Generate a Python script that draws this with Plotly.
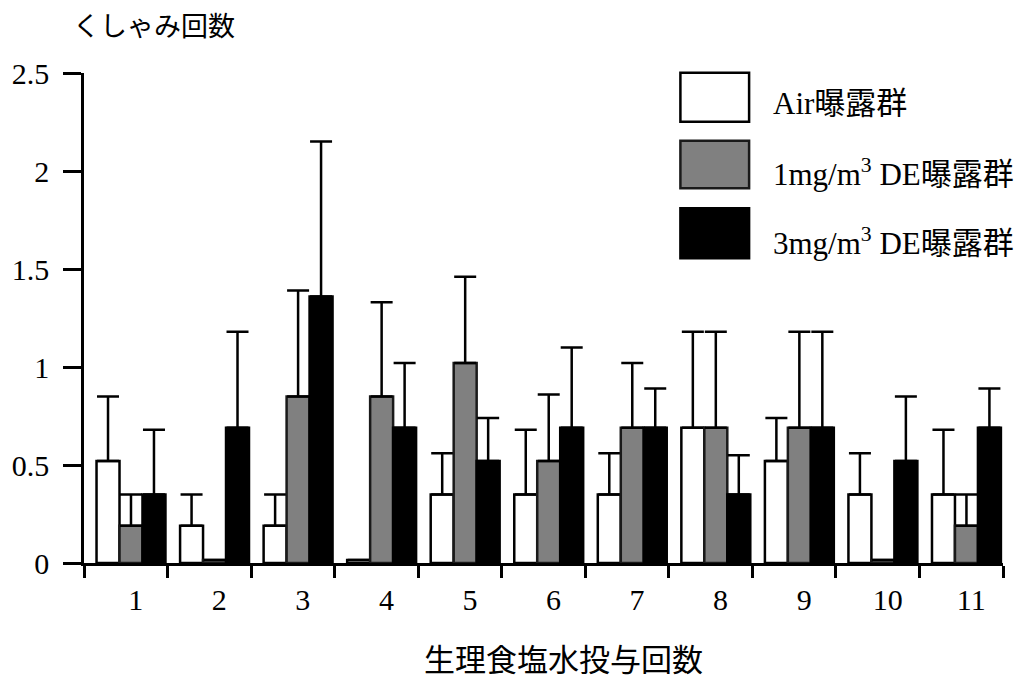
import plotly.graph_objects as go

# Sneezing counts per saline administration, three exposure groups (mean + upper SE)
rounds = ["1", "2", "3", "4", "5", "6", "7", "8", "9", "10", "11"]

air_mean = [0.52, 0.19, 0.19, 0.015, 0.35, 0.35, 0.35, 0.69, 0.52, 0.35, 0.35]
air_err = [0.33, 0.16, 0.16, 0.0, 0.21, 0.33, 0.21, 0.49, 0.22, 0.21, 0.33]

de1_mean = [0.19, 0.015, 0.85, 0.85, 1.02, 0.52, 0.69, 0.69, 0.69, 0.015, 0.19]
de1_err = [0.16, 0.0, 0.54, 0.48, 0.44, 0.34, 0.33, 0.49, 0.49, 0.0, 0.16]

de3_mean = [0.35, 0.69, 1.36, 0.69, 0.52, 0.69, 0.69, 0.35, 0.69, 0.52, 0.69]
de3_err = [0.33, 0.49, 0.79, 0.33, 0.22, 0.41, 0.20, 0.20, 0.49, 0.33, 0.20]

group_names = ["Air曝露群", "1mg/m<sup>3</sup> DE曝露群", "3mg/m<sup>3</sup> DE曝露群"]
fills = ["#ffffff", "#808080", "#000000"]
outlines = ["#000000", "#1a1a1a", "#000000"]

SERIF = "Liberation Serif, Times New Roman, Noto Sans CJK JP, serif"
GOTHIC = "Noto Sans CJK JP, sans-serif"

W, H = 1023, 683
ML, MR, MT, MB = 80, 20, 73, 120
PW, PH = W - ML - MR, H - MT - MB


def px_x(px):
    return (px - ML) / PW


def px_y(py):
    return (H - MB - py) / PH


fig = go.Figure()

bar_w = 0.275
offsets = [-0.35, -0.075, 0.20]
series = [(air_mean, air_err), (de1_mean, de1_err), (de3_mean, de3_err)]

for (mean, err), name, fc, lc, off in zip(series, group_names, fills, outlines, offsets):
    fig.add_trace(go.Bar(
        x=rounds,
        y=mean,
        name=name,
        width=bar_w,
        offset=off,
        marker=dict(color=fc, line=dict(color=lc, width=2.5)),
        error_y=dict(
            type="data",
            symmetric=False,
            array=err,
            arrayminus=[0] * len(err),
            color="#000000",
            thickness=2.5,
            width=11,
        ),
        showlegend=False,
    ))

# Legend drawn as large swatches with labels
legend_rows = [(72.7, 121.7, 104), (140.7, 188.3, 172), (208.3, 258.3, 241)]
for (top, bot, mid), name, fc, lc in zip(legend_rows, group_names, fills, outlines):
    fig.add_shape(
        type="rect", xref="paper", yref="paper",
        x0=px_x(679), x1=px_x(748), y0=px_y(bot), y1=px_y(top),
        fillcolor=fc, line=dict(color=lc, width=2.5),
    )
    fig.add_annotation(
        xref="paper", yref="paper", x=px_x(770), y=px_y(mid),
        xanchor="left", yanchor="middle", showarrow=False,
        text=name, font=dict(family=SERIF, size=31, color="#000000"),
    )

# Axis titles
fig.add_annotation(
    xref="paper", yref="paper", x=px_x(150), y=px_y(25),
    xanchor="center", yanchor="middle", showarrow=False,
    text="くしゃみ回数", font=dict(family=GOTHIC, size=27, color="#000000"),
)
fig.add_annotation(
    xref="paper", yref="paper", x=px_x(562), y=px_y(657),
    xanchor="center", yanchor="middle", showarrow=False,
    text="生理食塩水投与回数", font=dict(family=GOTHIC, size=31, color="#000000"),
)

tick_font = dict(family=SERIF, size=30, color="#000000")

fig.update_layout(
    width=W, height=H,
    margin=dict(l=ML, r=MR, t=MT, b=MB, pad=0),
    paper_bgcolor="#ffffff",
    plot_bgcolor="#ffffff",
    barmode="overlay",
    xaxis=dict(
        type="category",
        categoryorder="array",
        categoryarray=rounds,
        tickson="boundaries",
        ticks="outside",
        ticklen=12,
        tickwidth=2.5,
        tickcolor="#000000",
        showline=True,
        linecolor="#000000",
        linewidth=2.5,
        showgrid=False,
        zeroline=False,
        ticklabelshift=10,
        ticklabelstandoff=8,
        tickfont=tick_font,
    ),
    yaxis=dict(
        range=[0, 2.5],
        dtick=0.5,
        tick0=0,
        ticks="outside",
        ticklen=18,
        tickwidth=2.5,
        tickcolor="#000000",
        showline=True,
        linecolor="#000000",
        linewidth=2.5,
        showgrid=False,
        zeroline=False,
        ticklabelstandoff=8,
        tickfont=tick_font,
    ),
)

fig.write_html("out.html")
